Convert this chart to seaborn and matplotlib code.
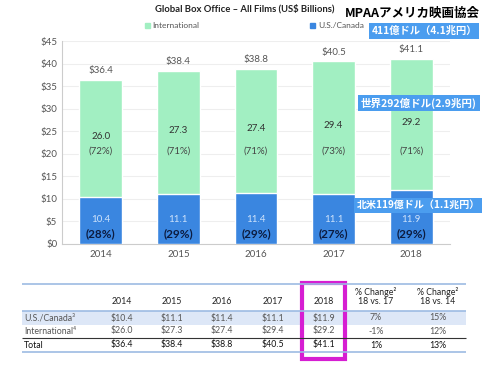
import numpy as np
import pandas as pd
import matplotlib
matplotlib.use("Agg")
import matplotlib.pyplot as plt
import seaborn as sns
from matplotlib.patches import Rectangle, Patch

# ============================================================
# DATA
# ============================================================

years = ["2014", "2015", "2016", "2017", "2018"]
us_canada = [10.4, 11.1, 11.4, 11.1, 11.9]
international = [26.0, 27.3, 27.4, 29.4, 29.2]
totals = [36.4, 38.4, 38.8, 40.5, 41.1]
int_pct = ["(72%)", "(71%)", "(71%)", "(73%)", "(71%)"]
us_pct = ["(28%)", "(29%)", "(29%)", "(27%)", "(29%)"]

row_labels = ["U.S./Canada³", "International⁴", "Total"]
table_cols = ["2014", "2015", "2016", "2017", "2018",
              "% Change²\n18 vs. 17", "% Change²\n18 vs. 14"]
table_rows = [
    ["$10.4", "$11.1", "$11.4", "$11.1", "$11.9", "7%", "15%"],
    ["$26.0", "$27.3", "$27.4", "$29.4", "$29.2", "-1%", "12%"],
    ["$36.4", "$38.4", "$38.8", "$40.5", "$41.1", "1%", "13%"],
]

GREEN = "#a2efc2"
BLUE = "#3a86e0"
BOX_BLUE = "#4b9def"
MAGENTA = "#d61ed2"

sns.set_style("white")
plt.rcParams["font.family"] = ["Lato", "Noto Sans CJK JP", "DejaVu Sans"]

df = pd.DataFrame({"year": years, "us": us_canada,
                   "intl": international, "total": totals})

fig = plt.figure(figsize=(4.9, 3.67), dpi=100)
ax = fig.add_axes([62 / 490, 1 - 244 / 367, 388 / 490, 203 / 367])

# ============================================================
# STACKED BARS
# ============================================================

sns.barplot(data=df, x="year", y="total", color=GREEN, width=0.55,
            saturation=1, ax=ax, zorder=2)
sns.barplot(data=df, x="year", y="us", color=BLUE, width=0.55,
            saturation=1, ax=ax, zorder=3)

for i in range(len(years)):
    ax.text(i, totals[i] + 1.0, f"${totals[i]:.1f}", ha="center",
            va="bottom", fontsize=7, color="#555555")
    mid = us_canada[i] + international[i] / 2
    ax.text(i, mid + 0.4, f"{international[i]:.1f}", ha="center",
            va="center", fontsize=7, color="#333333", zorder=4)
    ax.text(i, 20.7, int_pct[i], ha="center", va="center",
            fontsize=7, color="#444444", zorder=4)
    ax.text(i, 5.4, f"{us_canada[i]:.1f}", ha="center", va="center",
            fontsize=7, color="#cfe3fb", zorder=4)
    ax.text(i, 2.3, us_pct[i], ha="center", va="center", fontsize=8.5,
            fontweight="bold", color="#0c1c40", zorder=4)

ax.set_ylim(0, 45)
ax.set_xlim(-0.5, 4.5)
ax.set_yticks(range(0, 46, 5))
ax.set_yticklabels([f"${v}" for v in range(0, 46, 5)])
ax.tick_params(axis="both", labelsize=7, colors="#555555", length=0)
ax.tick_params(axis="x", pad=4)
ax.set_xticks([0.5, 1.5, 2.5, 3.5], minor=True)
ax.tick_params(axis="x", which="minor", length=3, color="#cccccc")
ax.set_xlabel("")
ax.set_ylabel("")
ax.yaxis.grid(True, color="#eeeeee", linewidth=0.8, zorder=0)
ax.set_axisbelow(True)
for s in ["top", "right"]:
    ax.spines[s].set_visible(False)
for s in ["left", "bottom"]:
    ax.spines[s].set_color("#cccccc")
    ax.spines[s].set_linewidth(0.8)

ax.legend(handles=[Patch(color=GREEN, label="International"),
                   Patch(color=BLUE, label="U.S./Canada")],
          ncol=2, loc="center", bbox_to_anchor=(0.496, 1.075),
          frameon=False, fontsize=6.0, handlelength=0.6,
          handleheight=0.6, handletextpad=0.3, columnspacing=13.3,
          labelcolor="#555555")

fig.text(245 / 490, 1 - 9 / 367, "Global Box Office – All Films (US$ Billions)",
         ha="center", va="center", fontsize=6.8, fontweight="bold",
         color="#222222")

# ============================================================
# JAPANESE ANNOTATIONS
# ============================================================

jp = ["Noto Sans CJK JP", "DejaVu Sans"]
fig.text(412 / 490, 1 - 13 / 367, "MPAAアメリカ映画協会", ha="center",
         va="center", fontsize=9, fontweight="bold", color="black",
         family=jp)
box = dict(boxstyle="square,pad=0.25", facecolor=BOX_BLUE, edgecolor="none")
fig.text(424 / 490, 1 - 31 / 367, "411億ドル（4.1兆円）", ha="center",
         va="center", fontsize=7.4, fontweight="bold", color="white",
         family=jp, bbox=box)
fig.text(419 / 490, 1 - 103 / 367, "世界292億ドル(2.9兆円)", ha="center",
         va="center", fontsize=7.6, fontweight="bold", color="white",
         family=jp, bbox=box)
fig.text(418 / 490, 1 - 205 / 367, "北米119億ドル（1.1兆円）", ha="center",
         va="center", fontsize=7.2, fontweight="bold", color="white",
         family=jp, bbox=box)

# ============================================================
# TABLE
# ============================================================

tax = fig.add_axes([0, 0, 1, 1], zorder=5)
tax.set_xlim(0, 490)
tax.set_ylim(367, 0)
tax.axis("off")

col_x = [122, 172, 222, 273, 324, 376, 438]
row_y = [318, 331, 345]

tax.add_patch(Rectangle((22, 311), 444, 14, facecolor="#dde7f7",
                        edgecolor="none"))
tax.hlines([284, 311, 352], 22, 466, color="#9dbbe3", linewidth=1.2)
tax.hlines(338, 22, 466, color="#333333", linewidth=0.8)

for j, c in enumerate(table_cols):
    tax.text(col_x[j], 306, c, ha="center", va="bottom", fontsize=6.3,
             color="#222222", linespacing=1.0)
for i, lab in enumerate(row_labels):
    color = "#111111" if i == 2 else "#555555"
    tax.text(24, row_y[i], lab, ha="left", va="center", fontsize=6.3,
             color=color)
    for j, v in enumerate(table_rows[i]):
        tax.text(col_x[j], row_y[i], v, ha="center", va="center",
                 fontsize=6.3, color=color)

tax.add_patch(Rectangle((302, 283), 43, 76, facecolor="none",
                        edgecolor=MAGENTA, linewidth=3))

fig.savefig("out.png", dpi=100)
